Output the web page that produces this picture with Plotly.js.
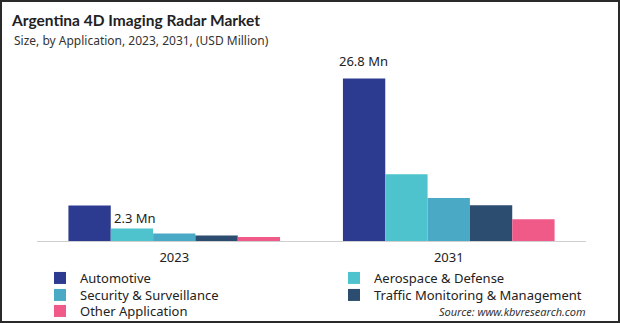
<!DOCTYPE html>
<html>
<head>
<meta charset="utf-8">
<script src="https://cdn.plot.ly/plotly-3.0.1.min.js"></script>
<style>
  html, body { margin: 0; padding: 0; background: #fff; }
  #wrap { position: relative; width: 620px; height: 323px; }
  #chart { width: 620px; height: 323px; }
  #frame { position: absolute; left: 0; top: 0; width: 620px; height: 323px; box-sizing: border-box; border: 2px solid #2a2a2a; pointer-events: none; }
</style>
</head>
<body>
<div id="wrap"><div id="chart"></div><div id="frame"></div></div>
<script>
const years = ['2023', '2031'];
const seriesNames = ['Automotive', 'Aerospace & Defense', 'Security & Surveillance', 'Traffic Monitoring & Management', 'Other Application'];
const automotive = [5.85, 26.8];
const aerospace = [2.06, 10.99];
const security = [1.24, 7.08];
const traffic = [0.91, 5.88];
const other = [0.66, 3.57];
const colors = ['#2c3a8f', '#4ec3cd', '#4aaac5', '#2d4d70', '#ef5a88'];
const labels = ['2.3 Mn', '26.8 Mn'];

const values = [automotive, aerospace, security, traffic, other];
const font = 'Noto Sans, Open Sans, sans-serif';
const txt = '#222222';

// one legend box per entry so the two-column layout sits where the reference has it
const legendIds = ['legend', 'legend2', 'legend3', 'legend4', 'legend5'];
const legendLeftPx = [40, 334, 40, 334, 40];
const legendTopPx = [263, 263, 280, 280, 296];

const traces = values.map((v, i) => ({
  type: 'bar',
  name: seriesNames[i],
  x: years.slice(),
  y: v.slice(),
  legend: legendIds[i],
  marker: { color: colors[i] },
  hoverinfo: 'skip'
}));

const plotL = 37, plotR = 586, plotT = 59, plotB = 241;
const pw = plotR - plotL, ph = plotB - plotT;

const idx2023 = years.indexOf('2023');
const idx2031 = years.indexOf('2031');

const layout = {
  width: 620,
  height: 323,
  margin: { l: plotL, r: 620 - plotR, t: plotT, b: 323 - plotB, autoexpand: false },
  paper_bgcolor: '#ffffff',
  plot_bgcolor: '#ffffff',
  barmode: 'group',
  bargap: 0.229,
  bargroupgap: 0,
  font: { family: font, color: txt, size: 12 },
  title: {
    text: '<b>Argentina 4D Imaging Radar Market</b>',
    x: 12 / 620, xref: 'container', xanchor: 'left',
    y: 1 - 21 / 323, yref: 'container', yanchor: 'middle',
    font: { family: 'Lato, Noto Sans, sans-serif', size: 15.5, color: txt }
  },
  xaxis: {
    type: 'category',
    showline: true, linecolor: '#cfcfcf', linewidth: 1,
    ticks: '', showgrid: false, zeroline: false,
    ticklabelstandoff: 4,
    tickfont: { family: font, size: 13, color: txt }
  },
  yaxis: {
    range: [0, 30], showticklabels: false, showgrid: false, zeroline: false, showline: false, ticks: ''
  },
  showlegend: true,
  annotations: [
    { x: (12 - plotL) / pw, y: (plotB - 41) / ph, xref: 'paper', yref: 'paper',
      text: 'Size, by Application, 2023, 2031, (USD Million)', showarrow: false,
      xanchor: 'left', yanchor: 'middle', font: { family: font, size: 12, color: '#333' } },
    { x: idx2023, y: automotive[idx2023], xref: 'x', yref: 'y', text: labels[0], showarrow: false,
      xanchor: 'left', yanchor: 'middle', xshift: -62, yshift: -12.5,
      font: { family: font, size: 13, color: txt } },
    { x: idx2031, y: automotive[idx2031], xref: 'x', yref: 'y', text: labels[1], showarrow: false,
      xanchor: 'center', yanchor: 'bottom', xshift: -85, yshift: 6,
      font: { family: font, size: 13, color: txt } },
    { x: (588 - plotL) / pw, y: (plotB - 311) / ph, xref: 'paper', yref: 'paper',
      text: '<i>Source: www.kbvresearch.com</i>', showarrow: false,
      xanchor: 'right', yanchor: 'middle',
      font: { family: font, size: 11, color: '#333' } }
  ]
};

legendIds.forEach((id, i) => {
  layout[id] = {
    orientation: 'v',
    xanchor: 'left',
    yanchor: 'top',
    x: (legendLeftPx[i] - plotL) / pw,
    y: (plotB - legendTopPx[i]) / ph,
    font: { family: font, size: 13, color: txt },
    bgcolor: 'rgba(0,0,0,0)',
    borderwidth: 0
  };
});

Plotly.newPlot('chart', traces, layout, { displayModeBar: false });
</script>
</body>
</html>
